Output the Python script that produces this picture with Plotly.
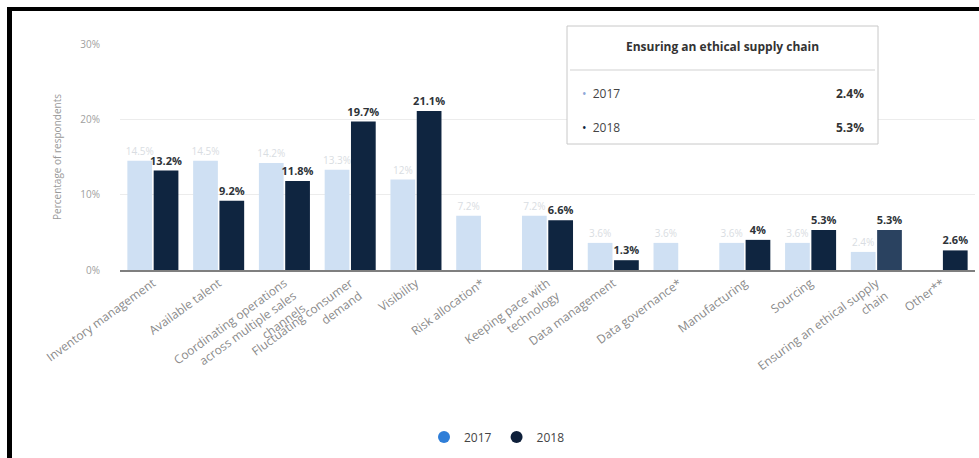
import plotly.graph_objects as go

categories = [
    "Inventory management",
    "Available talent",
    "Coordinating operations<br>across multiple sales<br>channels",
    "Fluctuating consumer<br>demand",
    "Visibility",
    "Risk allocation*",
    "Keeping pace with<br>technology",
    "Data management",
    "Data governance*",
    "Manufacturing",
    "Sourcing",
    "Ensuring an ethical supply<br>chain",
    "Other**",
]
values_2017 = [14.5, 14.5, 14.2, 13.3, 12, 7.2, 7.2, 3.6, 3.6, 3.6, 3.6, 2.4, None]
values_2018 = [13.2, 9.2, 11.8, 19.7, 21.1, None, 6.6, 1.3, None, 4, 5.3, 5.3, 2.6]
series_names = ["2017", "2018"]
y_ticks = [0, 10, 20, 30]
tooltip_index = 11

W, H = 979, 458
L, R, T, B = 120, 975, 44, 270  # plot area in pixels


def px_x(p):
    return (p - L) / (R - L)


def px_y(p):
    return (B - p) / (B - T)


def pct(v):
    return "" if v is None else "%g%%" % v


font = "Open Sans, Lato, sans-serif"
light_bar = "#cfe0f3"
dark_bar = "#0f2540"
hover_bar = "#2a4260"

colors_2018 = [hover_bar if i == tooltip_index else dark_bar for i in range(len(categories))]

fig = go.Figure()
fig.add_trace(go.Bar(
    x=categories, y=values_2017, name=series_names[0],
    marker=dict(color=light_bar, line=dict(width=0)),
    text=[pct(v) for v in values_2017], textposition="outside", constraintext="none",
    textfont=dict(size=10, color="#d9dde2", family=font),
    cliponaxis=False, showlegend=False,
))
fig.add_trace(go.Bar(
    x=categories, y=values_2018, name=series_names[1],
    marker=dict(color=colors_2018, line=dict(width=0)),
    text=["<b>%s</b>" % pct(v) if v is not None else "" for v in values_2018],
    textposition="outside", constraintext="none",
    textfont=dict(size=11, color="#2e3338", family=font),
    cliponaxis=False, showlegend=False,
))
# legend entries (round markers)
fig.add_trace(go.Scatter(x=[None], y=[None], mode="markers", name=series_names[0],
                         marker=dict(size=13, color="#2f7ed8", symbol="circle")))
fig.add_trace(go.Scatter(x=[None], y=[None], mode="markers", name=series_names[1],
                         marker=dict(size=13, color="#0e1f3a", symbol="circle")))

fig.update_layout(
    width=W, height=H,
    margin=dict(l=L, r=W - R, t=T, b=H - B),
    paper_bgcolor="white", plot_bgcolor="white",
    barmode="group", bargap=0.2, bargroupgap=0.06,
    font=dict(family=font, color="#666"),
    showlegend=True,
    legend=dict(orientation="h", x=px_x(497), xanchor="center", y=px_y(437), yanchor="middle",
                font=dict(size=12, color="#444"), itemsizing="constant"),
)
fig.update_xaxes(
    tickangle=-36, tickfont=dict(size=12, color="#8a8a8a", family=font),
    showline=True, linecolor="#7f7f7f", linewidth=1.5, showgrid=False, ticks="",
)
fig.update_yaxes(
    range=[0, 30], tickvals=y_ticks, ticktext=[pct(v) for v in y_ticks],
    tickfont=dict(size=10, color="#a0a0a0", family=font),
    showgrid=True, gridcolor="#ececec", gridwidth=1, zeroline=False,
    ticklabelstandoff=19,
    title=dict(text="Percentage of respondents", font=dict(size=10, color="#999"), standoff=16),
)

shapes = []
# black frame (top and left)
shapes.append(dict(type="rect", xref="paper", yref="paper",
                   x0=px_x(7), x1=px_x(W + 5), y0=px_y(11), y1=px_y(7),
                   fillcolor="black", line=dict(width=0), layer="above"))
shapes.append(dict(type="rect", xref="paper", yref="paper",
                   x0=px_x(7), x1=px_x(12), y0=px_y(H + 5), y1=px_y(7),
                   fillcolor="black", line=dict(width=0), layer="above"))
# tooltip box
shapes.append(dict(type="rect", xref="paper", yref="paper",
                   x0=px_x(567), x1=px_x(878), y0=px_y(144), y1=px_y(26),
                   fillcolor="white", line=dict(color="#c8c8c8", width=1), layer="above"))
shapes.append(dict(type="line", xref="paper", yref="paper",
                   x0=px_x(570), x1=px_x(875), y0=px_y(70), y1=px_y(70),
                   line=dict(color="#e0e0e0", width=1.5), layer="above"))
fig.update_layout(shapes=shapes)

tip_title = categories[tooltip_index].replace("<br>", " ")
annotations = [
    dict(xref="paper", yref="paper", x=px_x(722), y=px_y(46), text="<b>" + tip_title + "</b>",
         showarrow=False, xanchor="center", yanchor="middle", font=dict(size=12, color="#333")),
]
row_y = [93, 127]
bullet_colors = ["#8fa8d8", "#0e1f3a"]
for name, vals, yy, bc in zip(series_names, [values_2017, values_2018], row_y, bullet_colors):
    annotations.append(dict(xref="paper", yref="paper", x=px_x(580), y=px_y(yy),
                            text="<span style='color:%s'>•</span>  %s" % (bc, name),
                            showarrow=False, xanchor="left", yanchor="middle",
                            font=dict(size=12, color="#444")))
    annotations.append(dict(xref="paper", yref="paper", x=px_x(866), y=px_y(yy),
                            text="<b>%s</b>" % pct(vals[tooltip_index]),
                            showarrow=False, xanchor="right", yanchor="middle",
                            font=dict(size=12, color="#333")))
fig.update_layout(annotations=annotations)

fig.write_html("out.html")
